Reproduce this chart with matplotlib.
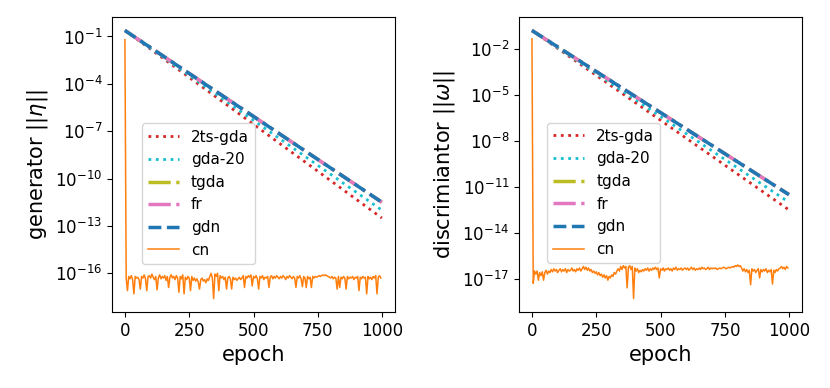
import numpy as np
from matplotlib import pyplot as plt
from matplotlib.ticker import NullLocator

# straight decay lines: values (log10) at first and last epoch
line_epochs = [0, 999]
gen_lines = {
    "2ts-gda": [-0.62, -12.5],
    "gda-20": [-0.62, -12.0],
    "tgda": [-0.62, -11.5],
    "fr": [-0.62, -11.5],
    "gdn": [-0.62, -11.5],
}
dis_lines = {
    "2ts-gda": [-0.76, -12.5],
    "gda-20": [-0.76, -12.0],
    "tgda": [-0.76, -11.5],
    "fr": [-0.76, -11.5],
    "gdn": [-0.76, -11.5],
}

# cn curve, log10 values every 5 epochs
cn_epochs = list(range(0, 1000, 5))
cn_gen_log = [
    -1.2, -16.3, -17.1, -16.2, -16.35, -16.15, -16.4, -17.3, -16.2, -16.3,
    -16.25, -16.4, -17.0, -16.2, -16.3, -16.1, -16.35, -17.1, -16.2, -16.15,
    -16.3, -16.05, -16.25, -16.4, -16.2, -17.05, -16.3, -16.1, -16.35, -16.2,
    -16.3, -16.15, -16.45, -16.2, -16.9, -16.25, -16.1, -16.3, -16.2, -16.4,
    -16.15, -16.3, -17.2, -16.2, -16.35, -16.1, -17.3, -16.25, -16.4, -16.2,
    -16.3, -17.1, -16.2, -16.45, -16.3, -16.5, -16.35, -16.55, -17.0, -16.4,
    -16.3, -16.5, -16.4, -16.6, -16.35, -16.45, -16.2, -16.0, -16.3, -17.6,
    -16.05, -16.2, -16.0, -17.1, -16.15, -16.3, -16.2, -16.4, -16.25, -17.0,
    -16.3, -16.2, -16.35, -17.0, -16.25, -16.4, -16.3, -16.45, -16.35, -16.25,
    -16.4, -16.3, -16.15, -16.9, -16.2, -16.3, -16.15, -16.25, -16.1, -16.8,
    -16.2, -16.3, -16.15, -16.35, -17.0, -16.2, -16.3, -16.15, -16.4, -16.25,
    -16.3, -16.2, -16.9, -16.25, -16.15, -16.35, -16.2, -16.3, -16.15, -16.25,
    -16.35, -16.2, -16.3, -16.15, -16.25, -16.4, -16.2, -16.3, -16.15, -16.25,
    -16.35, -16.2, -16.3, -16.9, -16.2, -16.3, -16.15, -16.35, -16.85, -16.2,
    -16.3, -16.9, -16.2, -16.35, -16.25, -16.9, -16.2, -16.3, -16.2, -16.25,
    -16.2, -16.15, -16.2, -16.15, -16.1, -16.15, -16.1, -16.15, -16.2, -16.25,
    -16.3, -16.2, -16.35, -16.25, -16.3, -17.0, -16.2, -16.9, -16.25, -16.35,
    -16.2, -16.3, -17.0, -16.2, -16.35, -16.25, -16.3, -16.2, -16.4, -16.25,
    -16.3, -16.2, -17.1, -16.25, -16.35, -16.2, -16.3, -16.25, -17.3, -16.2,
    -16.35, -16.25, -16.4, -16.2, -16.3, -16.15, -17.3, -16.25, -16.15, -16.3,
]
cn_dis_log = [
    -1.3, -17.3, -16.5, -16.7, -16.5, -17.1, -16.6, -16.8, -16.55, -17.1,
    -16.6, -16.45, -16.7, -16.5, -16.6, -16.4, -16.55, -16.35, -16.5, -16.4,
    -16.6, -16.45, -16.35, -16.55, -16.4, -16.5, -16.35, -16.6, -16.4, -16.5,
    -16.45, -16.3, -16.5, -16.4, -16.55, -16.35, -16.45, -16.3, -16.5, -16.35,
    -16.2, -16.4, -16.25, -16.45, -16.3, -16.5, -16.4, -16.6, -16.5, -16.65,
    -16.55, -16.75, -16.6, -16.8, -16.7, -16.9, -16.75, -16.95, -16.8, -17.1,
    -16.85, -16.95, -16.75, -16.85, -16.6, -16.7, -16.5, -16.35, -16.5, -16.2,
    -16.4, -16.15, -16.3, -16.2, -17.6, -16.25, -16.15, -16.4, -16.2, -18.3,
    -16.3, -16.5, -16.35, -16.6, -16.45, -16.55, -16.4, -16.5, -16.35, -16.45,
    -16.3, -16.5, -16.35, -16.45, -16.3, -16.4, -16.25, -16.4, -16.3, -16.95,
    -16.35, -16.45, -16.3, -16.5, -16.35, -16.4, -16.3, -16.45, -16.35, -16.5,
    -16.3, -16.4, -16.25, -16.45, -16.35, -16.4, -16.3, -16.45, -16.35, -16.3,
    -16.4, -16.3, -16.45, -16.35, -16.25, -16.4, -16.3, -16.45, -16.35, -16.4,
    -16.3, -16.4, -16.25, -16.35, -16.3, -16.4, -16.35, -16.25, -16.4, -16.3,
    -16.35, -16.3, -16.35, -16.3, -16.4, -16.35, -16.3, -16.35, -16.3, -16.25,
    -16.3, -16.35, -16.3, -16.25, -16.3, -16.25, -16.2, -16.25, -16.15, -16.2,
    -16.1, -16.2, -16.15, -16.3, -16.5, -16.35, -16.55, -16.4, -16.6, -16.45,
    -17.4, -16.35, -16.5, -16.4, -16.6, -16.45, -16.35, -16.95, -16.4, -16.55,
    -16.4, -16.5, -16.35, -16.6, -16.45, -16.55, -16.4, -17.35, -16.45, -16.6,
    -16.4, -16.5, -16.35, -16.3, -16.2, -16.35, -16.25, -16.4, -16.2, -16.3,
]

styles = {
    "2ts-gda": dict(color="tab:red", ls=":", lw=2),
    "gda-20": dict(color="tab:cyan", ls=":", lw=2),
    "tgda": dict(color="tab:olive", ls="-.", lw=2.5),
    "fr": dict(color="tab:pink", ls="-.", lw=2.5),
    "gdn": dict(color="tab:blue", ls="--", lw=2.5),
}

fig, axes = plt.subplots(1, 2, figsize=(8.3, 3.88), dpi=100)
plt.subplots_adjust(left=0.135, right=0.966, top=0.956, bottom=0.196, wspace=0.44)

panels = [
    (axes[0], gen_lines, cn_gen_log, r"generator $||\eta||$", range(-16, 0, 3), (0.106, 0.163)),
    (axes[1], dis_lines, cn_dis_log, r"discrimiantor $||\omega||$", range(-17, 0, 3), (0.10, 0.166)),
]

for ax, lines, cn_log, ylabel, ticks, legpos in panels:
    for name, vals in lines.items():
        ax.plot(line_epochs, 10.0 ** np.array(vals), label=name, **styles[name])
    ax.plot(cn_epochs, 10.0 ** np.array(cn_log), color="tab:orange", lw=1.1, label="cn")
    ax.set_yscale("log")
    ax.set_yticks([10.0 ** t for t in ticks])
    ax.yaxis.set_minor_locator(NullLocator())
    ax.set_xticks([0, 250, 500, 750, 1000])
    ax.tick_params(labelsize=12)
    ax.set_xlabel("epoch", fontsize=15)
    ax.set_ylabel(ylabel, fontsize=15)
    ax.legend(loc="lower left", bbox_to_anchor=legpos, borderaxespad=0, fontsize=11)

plt.savefig("out.png")
